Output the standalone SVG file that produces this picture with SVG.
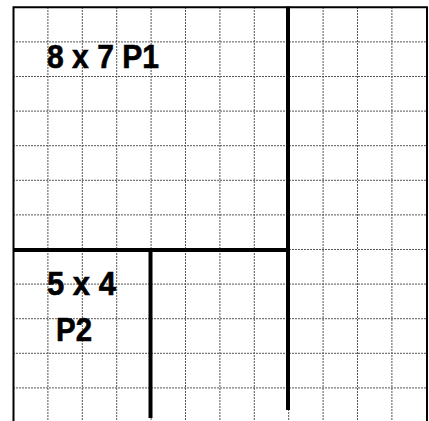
<svg xmlns="http://www.w3.org/2000/svg" width="429" height="421" viewBox="0 0 429 421">
<style>
.grid line{stroke:#555;stroke-width:1;stroke-dasharray:2 1}
.border{stroke:#000;stroke-width:2;fill:none}
.thick{stroke:#000;stroke-width:4}
.lbl{font-family:"Liberation Sans",Arial,sans-serif;font-weight:bold;font-size:33px;fill:#000;stroke:#000;stroke-width:0.6}
</style>
<rect width="429" height="421" fill="#fff"/>
<g class="grid" id="grid">
<line x1="47.9" y1="7" x2="47.9" y2="421"/>
<line x1="82.3" y1="7" x2="82.3" y2="421"/>
<line x1="116.7" y1="7" x2="116.7" y2="421"/>
<line x1="151.1" y1="7" x2="151.1" y2="421"/>
<line x1="185.5" y1="7" x2="185.5" y2="421"/>
<line x1="219.9" y1="7" x2="219.9" y2="421"/>
<line x1="254.3" y1="7" x2="254.3" y2="421"/>
<line x1="288.7" y1="7" x2="288.7" y2="421"/>
<line x1="323.1" y1="7" x2="323.1" y2="421"/>
<line x1="357.5" y1="7" x2="357.5" y2="421"/>
<line x1="391.9" y1="7" x2="391.9" y2="421"/>
<line x1="13" y1="41.9" x2="427" y2="41.9"/>
<line x1="13" y1="76.5" x2="427" y2="76.5"/>
<line x1="13" y1="111.1" x2="427" y2="111.1"/>
<line x1="13" y1="145.7" x2="427" y2="145.7"/>
<line x1="13" y1="180.3" x2="427" y2="180.3"/>
<line x1="13" y1="214.9" x2="427" y2="214.9"/>
<line x1="13" y1="249.5" x2="427" y2="249.5"/>
<line x1="13" y1="284.1" x2="427" y2="284.1"/>
<line x1="13" y1="318.7" x2="427" y2="318.7"/>
<line x1="13" y1="353.3" x2="427" y2="353.3"/>
<line x1="13" y1="387.9" x2="427" y2="387.9"/>
</g>
<g id="outline">
<path class="border" d="M13.5 421 V7.3 H427 V421"/>
</g>
<g id="connectors">
<line class="thick" x1="288" y1="6.5" x2="288" y2="410"/>
<line class="thick" x1="13" y1="250" x2="290" y2="250"/>
<line class="thick" x1="150.5" y1="248" x2="150.5" y2="418"/>
</g>
<g id="p1">
<text class="lbl" x="47" y="68" textLength="112" lengthAdjust="spacingAndGlyphs">8 x 7 P1</text>
</g>
<g id="p2">
<text class="lbl" x="47" y="295" textLength="69" lengthAdjust="spacingAndGlyphs">5 x 4</text>
<text class="lbl" x="56" y="341" textLength="36" lengthAdjust="spacingAndGlyphs">P2</text>
</g>
</svg>
